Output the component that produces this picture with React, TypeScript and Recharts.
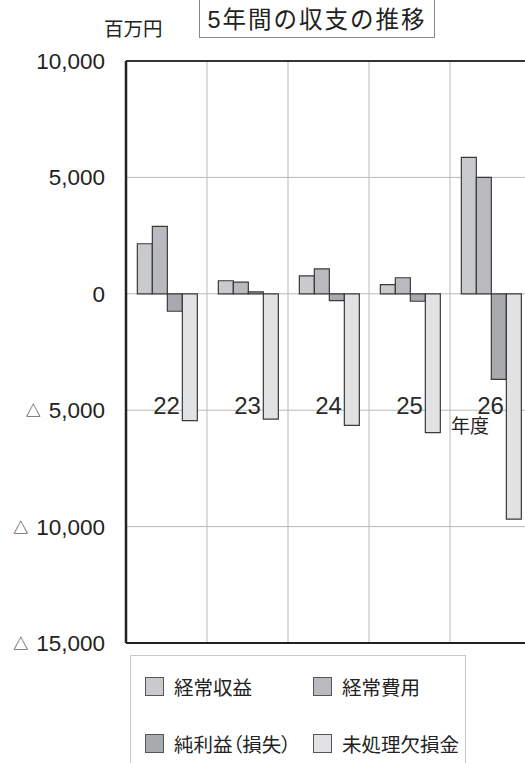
import React from 'react'
import { BarChart, Bar, XAxis, YAxis, CartesianGrid, ReferenceLine } from 'recharts'

const years = ['22', '23', '24', '25', '26']
const ordinaryRevenue = [2150, 560, 770, 390, 5860]
const ordinaryExpense = [2900, 500, 1070, 690, 5000]
const netIncome = [-750, 80, -290, -320, -3680]
const accumulatedDeficit = [-5450, -5380, -5650, -5960, -9680]
const yTicks = [10000, 5000, 0, -5000, -10000, -15000]

const seriesNames = ['経常収益', '経常費用', '純利益（損失）', '未処理欠損金']
const seriesKeys = ['revenue', 'expense', 'net', 'deficit']
const seriesColors = ['#c9cacc', '#b9babd', '#a9aaad', '#e1e2e4']

const FONT = "'Liberation Sans', 'Noto Sans CJK JP', sans-serif"

const chartData = years.map((year, i) => ({
  year,
  revenue: ordinaryRevenue[i],
  expense: ordinaryExpense[i],
  net: netIncome[i],
  deficit: accumulatedDeficit[i],
}))

// negative values are written with a small triangle (Japanese report style)
const YenTick = (props: any) => {
  const { x, y, payload } = props
  const v = payload.value as number
  const s = Math.abs(v).toLocaleString('en-US')
  return (
    <text x={x} y={y} textAnchor="end" dominantBaseline="central" fill="#222" fontSize={22.5} fontFamily={FONT}>
      {v < 0 && <tspan fontSize={15}>△</tspan>}
      <tspan dx={v < 0 ? 8 : 0}>{s}</tspan>
    </text>
  )
}

const YearTick = (props: any) => {
  const { x, y, payload } = props
  return (
    <text x={x} y={y - 246} textAnchor="middle" dominantBaseline="central" fill="#2a2a2a" fontSize={24} fontFamily={FONT}>
      {payload.value}
    </text>
  )
}

const LegendBox = () => {
  const items = seriesNames.map((name, i) => ({ name, color: seriesColors[i] }))
  return (
    <div
      style={{
        position: 'absolute',
        left: 130,
        top: 655,
        width: 336,
        height: 130,
        border: '1px solid #c8c8c8',
        boxSizing: 'border-box',
        fontFamily: FONT,
      }}
    >
      {items.map((item, i) => (
        <div
          key={item.name}
          style={{
            position: 'absolute',
            left: i % 2 === 0 ? 14 : 182,
            top: i < 2 ? 16 : 73,
            display: 'flex',
            alignItems: 'center',
            fontSize: 19.5,
            color: '#222',
            whiteSpace: 'nowrap',
            fontFeatureSettings: '"palt"',
          }}
        >
          <span
            style={{
              display: 'inline-block',
              width: 17,
              height: 17,
              background: item.color,
              border: '1.5px solid #555',
              marginRight: 10,
            }}
          />
          {item.name}
        </div>
      ))}
    </div>
  )
}

export default function App() {
  return (
    <div style={{ position: 'absolute', left: 0, top: 0, width: 525, height: 763, overflow: 'hidden', background: '#fff', fontFamily: FONT }}>
      <div
        style={{
          position: 'absolute',
          left: 199,
          top: -2,
          width: 236,
          height: 40,
          border: '1px solid #888',
          boxSizing: 'border-box',
          display: 'flex',
          alignItems: 'center',
          justifyContent: 'center',
          fontSize: 23.5,
          letterSpacing: 2,
          color: '#222',
        }}
      >
        5年間の収支の推移
      </div>
      <div style={{ position: 'absolute', left: 104, top: 13, fontSize: 19.5, color: '#222' }}>百万円</div>
      <div style={{ position: 'absolute', left: 451, top: 411, fontSize: 19, color: '#222' }}>年度</div>

      <div style={{ position: 'absolute', left: 0, top: 0 }}>
        <BarChart
          width={560}
          height={763}
          data={chartData}
          margin={{ top: 61, right: 29, left: 0, bottom: 100 }}
          barCategoryGap="14%"
          barGap={0}
        >
          <CartesianGrid
            stroke="#b8b8b8"
            strokeWidth={1}
            horizontalValues={[5000, 0, -5000, -10000]}
            verticalCoordinatesGenerator={({ offset }: any) =>
              years.map((_, i) => offset.left + ((i + 1) * offset.width) / years.length)
            }
          />
          <XAxis
            dataKey="year"
            height={20}
            axisLine={{ stroke: '#222', strokeWidth: 2 }}
            tickLine={false}
            tick={<YearTick />}
            interval={0}
          />
          <YAxis
            width={126}
            domain={[-15000, 10000]}
            ticks={yTicks}
            axisLine={{ stroke: '#222', strokeWidth: 2.5 }}
            tickLine={false}
            tickSize={0}
            tickMargin={21}
            tick={<YenTick />}
            allowDataOverflow
          />
          <ReferenceLine y={10000} stroke="#333" strokeWidth={2} />
          {seriesKeys.map((key, i) => (
            <Bar
              key={key}
              dataKey={key}
              name={seriesNames[i]}
              fill={seriesColors[i]}
              stroke="#3a3a3a"
              strokeWidth={1.2}
              isAnimationActive={false}
            />
          ))}
        </BarChart>
      </div>
      <LegendBox />
    </div>
  )
}
